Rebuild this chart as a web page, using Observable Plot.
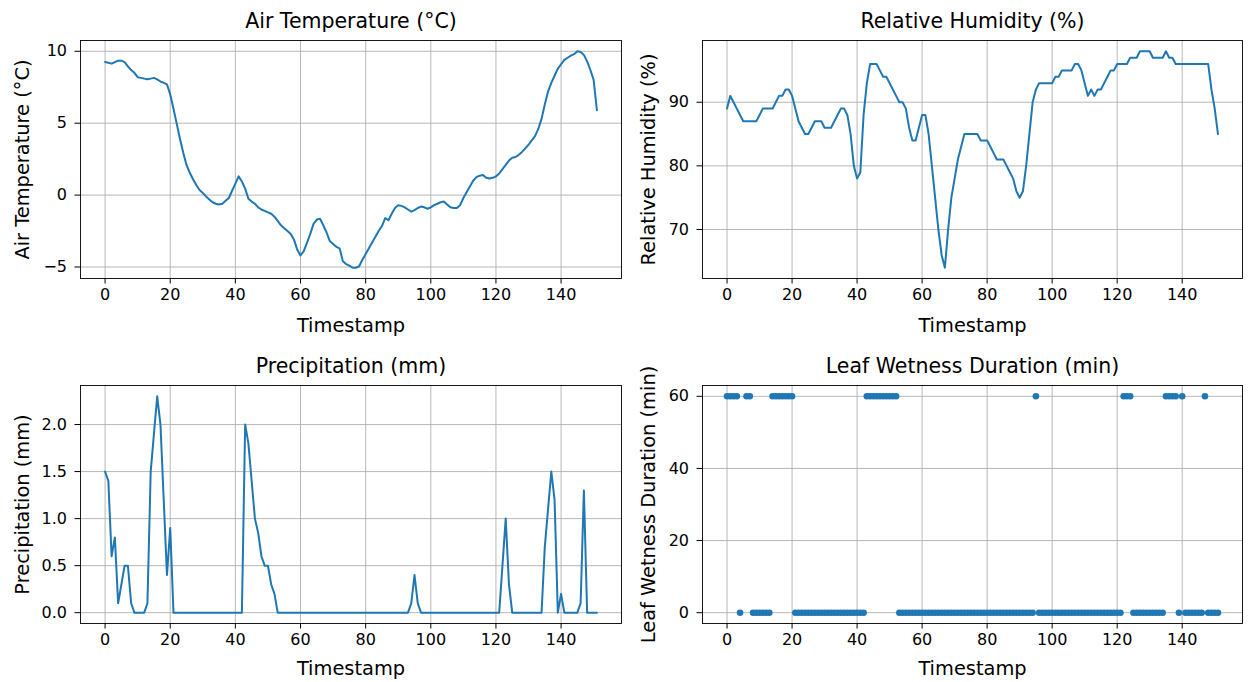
<!DOCTYPE html>
<html><head><meta charset="utf-8">
<script src="https://cdn.jsdelivr.net/npm/d3@7"></script>
<script src="https://cdn.jsdelivr.net/npm/@observablehq/plot@0.6"></script>
<style>
html,body{margin:0;padding:0;background:#fff;}
#chart{position:relative;width:1248px;height:682px;background:#fff;overflow:hidden;}
#chart svg{position:absolute;}
</style></head><body><div id="chart"></div>
<script>
const temperature = [
  9.26, 9.2, 9.14, 9.25, 9.35, 9.35, 9.25, 8.95, 8.7, 8.5,
  8.2, 8.15, 8.1, 8.05, 8.1, 8.15, 8.05, 7.9, 7.8, 7.7,
  7.0, 6.0, 4.95, 3.9, 2.95, 2.1, 1.55, 1.1, 0.7, 0.35,
  0.15, -0.1, -0.3, -0.5, -0.6, -0.65, -0.6, -0.4, -0.2, 0.3,
  0.8, 1.3, 0.95, 0.45, -0.25, -0.45, -0.6, -0.85, -1.0, -1.1,
  -1.2, -1.3, -1.5, -1.8, -2.1, -2.3, -2.5, -2.7, -3.1, -3.8,
  -4.2, -3.9, -3.3, -2.7, -2.0, -1.7, -1.65, -2.1, -2.6, -3.2,
  -3.4, -3.6, -3.7, -4.6, -4.8, -4.9, -5.05, -5.05, -4.95, -4.5,
  -4.1, -3.7, -3.3, -2.9, -2.5, -2.15, -1.6, -1.75, -1.3, -0.9,
  -0.7, -0.75, -0.85, -1.0, -1.15, -1.05, -0.9, -0.8, -0.85, -0.95,
  -0.85, -0.7, -0.6, -0.5, -0.45, -0.65, -0.85, -0.9, -0.9, -0.7,
  -0.2, 0.2, 0.6, 1.0, 1.25, 1.35, 1.4, 1.2, 1.15, 1.2,
  1.3, 1.5, 1.8, 2.1, 2.4, 2.6, 2.65, 2.8, 3.0, 3.25,
  3.5, 3.8, 4.1, 4.6, 5.3, 6.3, 7.2, 7.8, 8.3, 8.8,
  9.1, 9.4, 9.55, 9.7, 9.8, 10.0, 9.95, 9.75, 9.3, 8.7,
  8.0, 5.9
];
const humidity = [
  89, 91, 90, 89, 88, 87, 87, 87, 87, 87,
  88, 89, 89, 89, 89, 90, 91, 91, 92, 92,
  91, 89, 87, 86, 85, 85, 86, 87, 87, 87,
  86, 86, 86, 87, 88, 89, 89, 88, 85, 80,
  78, 79, 88, 93, 96, 96, 96, 95, 94, 94,
  93, 92, 91, 90, 90, 89, 86, 84, 84, 86,
  88, 88, 85, 80, 75, 70, 66, 64, 70, 75,
  78, 81, 83, 85, 85, 85, 85, 85, 84, 84,
  84, 83, 82, 81, 81, 81, 80, 79, 78, 76,
  75, 76, 80, 85, 90, 92, 93, 93, 93, 93,
  93, 94, 94, 95, 95, 95, 95, 96, 96, 95,
  93, 91, 92, 91, 92, 92, 93, 94, 95, 95,
  96, 96, 96, 96, 97, 97, 97, 98, 98, 98,
  98, 97, 97, 97, 97, 98, 97, 97, 96, 96,
  96, 96, 96, 96, 96, 96, 96, 96, 96, 92,
  89, 85
];
const precipitation = [
  1.5, 1.4, 0.6, 0.8, 0.1, 0.3, 0.5, 0.5, 0.1, 0,
  0, 0, 0, 0.1, 1.5, 1.9, 2.3, 2.0, 1.2, 0.4,
  0.9, 0, 0, 0, 0, 0, 0, 0, 0, 0,
  0, 0, 0, 0, 0, 0, 0, 0, 0, 0,
  0, 0, 0, 2.0, 1.8, 1.4, 1.0, 0.85, 0.6, 0.5,
  0.5, 0.3, 0.2, 0, 0, 0, 0, 0, 0, 0,
  0, 0, 0, 0, 0, 0, 0, 0, 0, 0,
  0, 0, 0, 0, 0, 0, 0, 0, 0, 0,
  0, 0, 0, 0, 0, 0, 0, 0, 0, 0,
  0, 0, 0, 0, 0.1, 0.4, 0.1, 0, 0, 0,
  0, 0, 0, 0, 0, 0, 0, 0, 0, 0,
  0, 0, 0, 0, 0, 0, 0, 0, 0, 0,
  0, 0, 0.5, 1.0, 0.3, 0, 0, 0, 0, 0,
  0, 0, 0, 0, 0, 0.7, 1.1, 1.5, 1.2, 0,
  0.2, 0, 0, 0, 0, 0, 0.1, 1.3, 0, 0,
  0, 0
];
// null = no reading at that timestamp
const leafWetness = [
  60, 60, 60, 60, 0, null, 60, 60, 0, 0,
  0, 0, 0, 0, 60, 60, 60, 60, 60, 60,
  60, 0, 0, 0, 0, 0, 0, 0, 0, 0,
  0, 0, 0, 0, 0, 0, 0, 0, 0, 0,
  0, 0, 0, 60, 60, 60, 60, 60, 60, 60,
  60, 60, 60, 0, 0, 0, 0, 0, 0, 0,
  0, 0, 0, 0, 0, 0, 0, 0, 0, 0,
  0, 0, 0, 0, 0, 0, 0, 0, 0, 0,
  0, 0, 0, 0, 0, 0, 0, 0, 0, 0,
  0, 0, 0, 0, 0, 60, 0, 0, 0, 0,
  0, 0, 0, 0, 0, 0, 0, 0, 0, 0,
  0, 0, 0, 0, 0, 0, 0, 0, 0, 0,
  0, 0, 60, 60, 60, 0, 0, 0, 0, 0,
  0, 0, 0, 0, 0, 60, 60, 60, 60, 0,
  60, 0, 0, 0, 0, 0, 0, 60, 0, 0,
  0, 0
];
const xTicks = [0, 20, 40, 60, 80, 100, 120, 140];
const tempTicks = [-5, 0, 5, 10];
const humTicks = [70, 80, 90];
const precipTicks = [0, 0.5, 1, 1.5, 2];
const leafTicks = [0, 20, 40, 60];
const xLabel = "Timestamp";

const BLUE = "#1f77b4";
const GRID = "#b0b0b0";
const FONT = "DejaVu Sans, sans-serif";

function panel(o) {
  const data = o.values.map((v, i) => ({t: i, v}));
  const fmtY = o.yFormat || (d => d < 0 ? "\u2212" + Math.abs(d) : String(d));
  const series = o.kind === "line"
    ? Plot.lineY(data, {x: "t", y: "v", stroke: BLUE, strokeWidth: 2})
    : Plot.dot(data.filter(d => d.v != null), {x: "t", y: "v", r: 3.3, fill: BLUE, stroke: "none"});
  const svg = Plot.plot({
    width: o.width, height: o.height,
    marginLeft: o.mL, marginRight: o.mR, marginTop: o.mT, marginBottom: o.mB,
    x: {domain: [-7.55, 158.55]},
    y: {domain: o.yDomain},
    style: {fontFamily: FONT, fontSize: "16px", color: "black", background: "white", overflow: "visible"},
    marks: [
      Plot.gridX(xTicks, {stroke: GRID, strokeOpacity: 1, strokeWidth: 0.9}),
      Plot.gridY(o.yTicks, {stroke: GRID, strokeOpacity: 1, strokeWidth: 0.9}),
      series,
      Plot.frame({stroke: "black", strokeWidth: 0.9}),
      Plot.axisX(xTicks, {tickSize: 5.5, tickPadding: 5, fontSize: 16, label: null, tickFormat: d => String(d)}),
      Plot.axisY(o.yTicks, {tickSize: 5.5, tickPadding: 8, fontSize: 16, label: null, tickFormat: fmtY}),
      Plot.text([o.title], {text: d => d, frameAnchor: "top", dy: -27, fontSize: 20.5, fill: "black"}),
      Plot.text([xLabel], {text: d => d, frameAnchor: "bottom", dy: o.xlabDy, fontSize: 19.4, fill: "black"}),
      Plot.text([o.ylabel], {text: d => d, frameAnchor: "left", textAnchor: "middle", dx: o.ylabDx, rotate: -90, fontSize: 19.4, fill: "black"})
    ]
  });
  svg.style.left = o.left + "px";
  svg.style.top = o.top + "px";
  document.getElementById("chart").append(svg);
}

panel({values: temperature, kind: "line", title: "Air Temperature (°C)", ylabel: "Air Temperature (°C)",
  yDomain: [-5.8, 10.75], yTicks: tempTicks,
  left: 0, top: 0, width: 640, height: 345, mL: 80, mR: 19, mT: 40, mB: 67, ylabDx: -58, xlabDy: 53});
panel({values: humidity, kind: "line", title: "Relative Humidity (%)", ylabel: "Relative Humidity (%)",
  yDomain: [62.3, 99.7], yTicks: humTicks,
  left: 640, top: 0, width: 608, height: 345, mL: 62, mR: 6, mT: 40, mB: 67, ylabDx: -54, xlabDy: 53});
panel({values: precipitation, kind: "line", title: "Precipitation (mm)", ylabel: "Precipitation (mm)",
  yDomain: [-0.115, 2.415], yTicks: precipTicks, yFormat: d => d.toFixed(1),
  left: 0, top: 345, width: 640, height: 337, mL: 80, mR: 19, mT: 40, mB: 59, ylabDx: -58, xlabDy: 51});
panel({values: leafWetness, kind: "dot", title: "Leaf Wetness Duration (min)", ylabel: "Leaf Wetness Duration (min)",
  yDomain: [-3, 63], yTicks: leafTicks,
  left: 640, top: 345, width: 608, height: 337, mL: 62, mR: 6, mT: 40, mB: 59, ylabDx: -54, xlabDy: 51});
</script>
</body></html>
